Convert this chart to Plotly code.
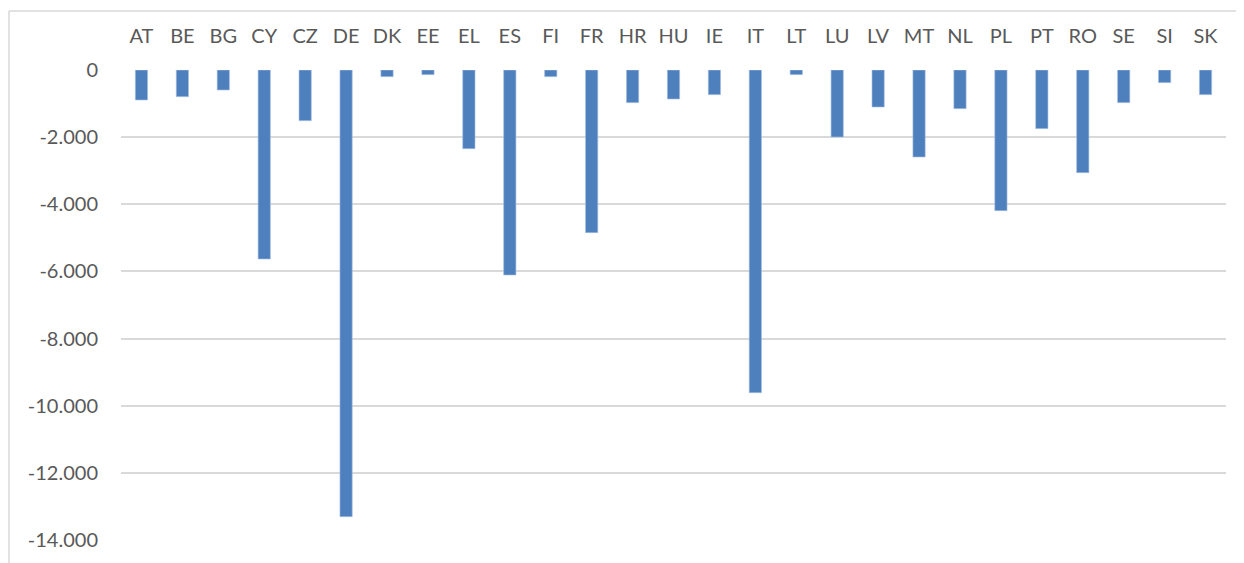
import plotly.graph_objects as go

countries = ["AT", "BE", "BG", "CY", "CZ", "DE", "DK", "EE", "EL", "ES", "FI", "FR", "HR", "HU",
             "IE", "IT", "LT", "LU", "LV", "MT", "NL", "PL", "PT", "RO", "SE", "SI", "SK"]
values = [-894, -795, -596, -5630, -1510, -13305, -199, -139, -2343, -6107, -199, -4845, -973, -864,
          -735, -9612, -139, -1996, -1102, -2592, -1152, -4190, -1747, -3058, -973, -377, -735]
tick_vals = [0, -2000, -4000, -6000, -8000, -10000, -12000, -14000]
tick_text = ["0", "-2.000", "-4.000", "-6.000", "-8.000", "-10.000", "-12.000", "-14.000"]

OFF = 8  # page body margin
W, H = 1244 - OFF, 563 - OFF
L, R, T, B = 121 - OFF, 18, 70 - OFF, 23
pw, ph = W - L - R, H - T - B

fig = go.Figure(go.Bar(
    x=countries, y=values, width=0.3,
    marker=dict(color="#4F80BE", line=dict(color="#A9C1E3", width=0.6)),
))

font = dict(family="Lato, 'Open Sans', sans-serif", size=20, color="#595959")

bx = 9 - OFF
by = 11 - OFF

fig.update_layout(
    width=W, height=H,
    margin=dict(l=L, r=R, t=T, b=B),
    paper_bgcolor="white", plot_bgcolor="white",
    showlegend=False, bargap=0.7,
    font=font,
    xaxis=dict(side="top", showgrid=False, zeroline=False, showline=False, ticks="",
               tickfont=font, ticklabelstandoff=22, fixedrange=True),
    yaxis=dict(range=[-14000, 0], tickvals=tick_vals, ticktext=tick_text,
               showgrid=True, gridcolor="#D9D9D9", gridwidth=2, zeroline=False,
               showline=False, ticks="", tickfont=font, ticklabelstandoff=22),
    shapes=[
        dict(type="line", xref="paper", yref="paper",
             x0=(bx - L) / pw, x1=(bx - L) / pw, y0=1 + (T - by) / ph, y1=-B / ph - 0.01,
             line=dict(color="#D9D9D9", width=1.5)),
        dict(type="line", xref="paper", yref="paper",
             x0=(bx - L) / pw, x1=1 + R / pw + 0.01, y0=1 + (T - by) / ph, y1=1 + (T - by) / ph,
             line=dict(color="#D9D9D9", width=1.5)),
    ],
)

fig.write_html("out.html")
